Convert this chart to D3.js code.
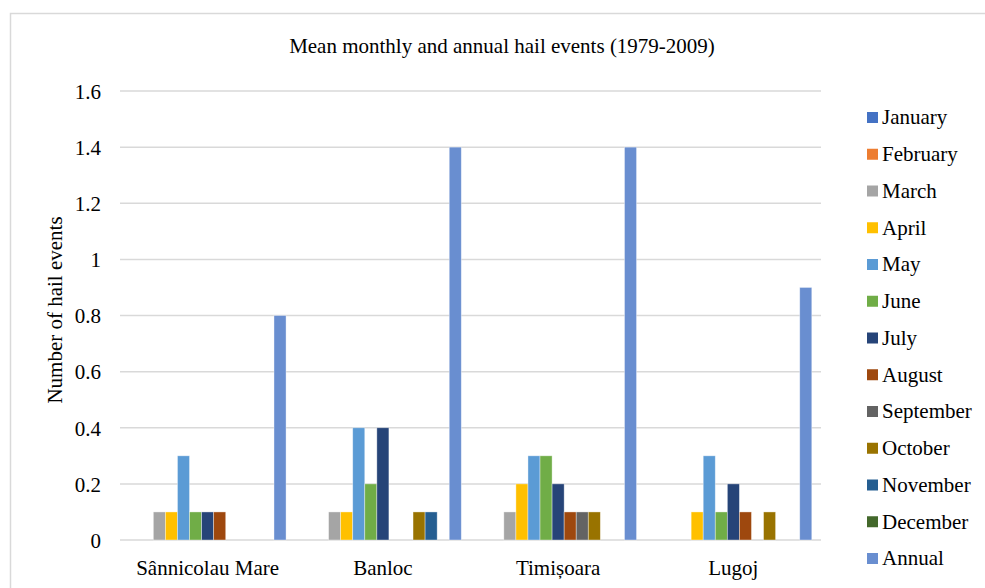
<!DOCTYPE html>
<html>
<head>
<meta charset="utf-8">
<script src="https://cdn.jsdelivr.net/npm/d3@7"></script>
<style>
  body { margin: 0; background: #fff; }
</style>
</head>
<body>
<div id="chart"></div>
<script>
// stations along the x axis
const stations = ["Sânnicolau Mare", "Banloc", "Timișoara", "Lugoj"];

// series names (legend order) and their colours
const series = ["January", "February", "March", "April", "May", "June", "July",
                "August", "September", "October", "November", "December", "Annual"];
const colours = ["#4472C4", "#ED7D31", "#A5A5A5", "#FFC000", "#5B9BD5", "#70AD47", "#264478",
                 "#9E480E", "#636363", "#997300", "#255E91", "#43682B", "#698ED0"];

// values per station, one per series (Jan..Dec, Annual)
const sannicolauMare = [0, 0, 0.1, 0.1, 0.3, 0.1, 0.1, 0.1, 0, 0, 0, 0, 0.8];
const banloc         = [0, 0, 0.1, 0.1, 0.4, 0.2, 0.4, 0, 0, 0.1, 0.1, 0, 1.4];
const timisoara      = [0, 0, 0.1, 0.2, 0.3, 0.3, 0.2, 0.1, 0.1, 0.1, 0, 0, 1.4];
const lugoj          = [0, 0, 0, 0.1, 0.3, 0.1, 0.2, 0.1, 0, 0.1, 0, 0, 0.9];

const yTicks = [0, 0.2, 0.4, 0.6, 0.8, 1, 1.2, 1.4, 1.6];

const rows = [sannicolauMare, banloc, timisoara, lugoj];

const width = 985, height = 588;
const plot = { left: 120, right: 821, top: 91, bottom: 540 };
const fs = 21;
const font = "Liberation Serif";

const svg = d3.select("#chart").append("svg")
    .attr("width", width)
    .attr("height", height)
    .attr("font-family", font);

// chart frame
svg.append("rect")
    .attr("x", 10.5).attr("y", 13.5)
    .attr("width", 1000).attr("height", 600)
    .attr("fill", "none")
    .attr("stroke", "#d9d9d9")
    .attr("stroke-width", 1.5);

// scales
const x0 = d3.scaleBand()
    .domain(stations)
    .range([plot.left, plot.right])
    .paddingInner(0.105)
    .paddingOuter(0.0525);

const x1 = d3.scaleBand()
    .domain(series)
    .range([0, x0.bandwidth()]);

const y = d3.scaleLinear()
    .domain([0, 1.6])
    .range([plot.bottom, plot.top]);

const colour = d3.scaleOrdinal().domain(series).range(colours);

// gridlines
svg.append("g")
    .selectAll("line")
    .data(yTicks)
    .enter().append("line")
        .attr("x1", plot.left).attr("x2", plot.right)
        .attr("y1", d => y(d)).attr("y2", d => y(d))
        .attr("stroke", "#d9d9d9")
        .attr("stroke-width", 1.5);

// y axis labels
const yAxis = d3.axisLeft(y).tickValues(yTicks).tickSize(0).tickPadding(19)
    .tickFormat(d => d3.format("")(+d.toFixed(1)));
const gy = svg.append("g")
    .attr("transform", `translate(${plot.left}, 0)`)
    .call(yAxis)
    .attr("font-family", font)
    .attr("font-size", fs);
gy.select(".domain").remove();
gy.selectAll("text")
    .attr("fill", "#000")
    .attr("dy", "0.35em");

// y title
svg.append("text")
    .attr("transform", "translate(62, 310) rotate(-90)")
    .attr("text-anchor", "middle")
    .attr("font-family", font)
    .attr("font-size", fs)
    .text("Number of hail events");

// bars
const groups = svg.append("g")
    .selectAll("g")
    .data(stations)
    .enter().append("g")
        .attr("transform", d => `translate(${x0(d)}, 0)`);

groups.selectAll("rect")
    .data((d, i) => series.map((s, j) => ({ name: s, value: rows[i][j] })).filter(v => v.value > 0))
    .enter().append("rect")
        .attr("x", d => x1(d.name))
        .attr("y", d => y(d.value))
        .attr("width", x1.bandwidth())
        .attr("height", d => y(0) - y(d.value))
        .attr("fill", d => colour(d.name))
        .attr("stroke", "#ffffff")
        .attr("stroke-opacity", 0.5)
        .attr("stroke-width", 0.75);

// x axis labels
const xAxis = d3.axisBottom(x0).tickSize(0).tickPadding(20);
const gx = svg.append("g")
    .attr("transform", `translate(0, ${plot.bottom})`)
    .call(xAxis)
    .attr("font-family", font)
    .attr("font-size", fs);
gx.select(".domain").remove();
gx.selectAll("text").attr("fill", "#000");

// title
svg.append("text")
    .attr("x", 502).attr("y", 53)
    .attr("text-anchor", "middle")
    .attr("font-family", font)
    .attr("font-size", fs)
    .text("Mean monthly and annual hail events (1979-2009)");

// legend
const legend = svg.append("g")
    .attr("transform", "translate(867, 117)")
    .selectAll("g")
    .data(series)
    .enter().append("g")
        .attr("transform", (_, i) => `translate(0, ${i * 36.75})`);

legend.append("rect")
    .attr("x", 0).attr("y", -5)
    .attr("width", 11).attr("height", 11)
    .attr("fill", d => colour(d));
legend.append("text")
    .attr("x", 15)
    .attr("dy", "0.35em")
    .attr("font-family", font)
    .attr("font-size", fs)
    .text(d => d);
</script>
</body>
</html>
